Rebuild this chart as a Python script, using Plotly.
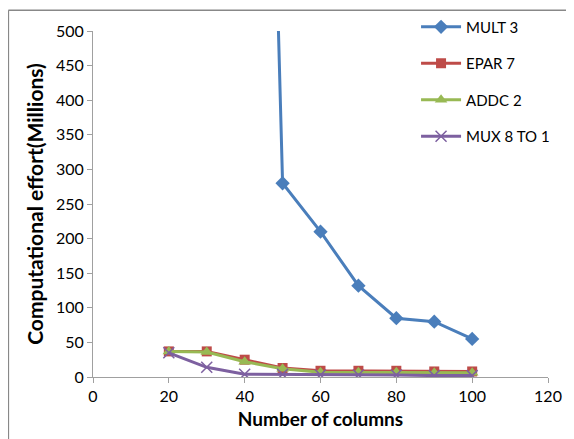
import plotly.graph_objects as go

x_cols = [20, 30, 40, 50, 60, 70, 80, 90, 100]
mult3_x = [40, 50, 60, 70, 80, 90, 100]
mult3 = [2300, 280, 210, 132, 85, 80, 55]
epar7 = [37, 37, 25, 13, 9, 9, 9, 8, 8]
addc2 = [37, 36, 22, 12, 7, 7, 7, 6, 6]
mux8 = [35, 14, 4, 4, 3, 3, 3, 2, 2]

x_ticks = [0, 20, 40, 60, 80, 100, 120]
y_ticks = [0, 50, 100, 150, 200, 250, 300, 350, 400, 450, 500]

FONT = "Lato, 'Liberation Sans', sans-serif"

fig = go.Figure()
fig.add_trace(go.Scatter(x=mult3_x, y=mult3, name="MULT 3", mode="lines+markers", legendgroup="a",
                         line=dict(color="#4A7EBB", width=3),
                         marker=dict(symbol="diamond", size=11, color="#4A7EBB")))
fig.add_trace(go.Scatter(x=x_cols, y=epar7, name="EPAR 7", mode="lines+markers", legendgroup="b",
                         line=dict(color="#BE4B48", width=3),
                         marker=dict(symbol="square", size=10, color="#BE4B48")))
fig.add_trace(go.Scatter(x=x_cols, y=addc2, name="ADDC 2", mode="lines+markers", legendgroup="c",
                         line=dict(color="#98B954", width=3),
                         marker=dict(symbol="triangle-up", size=11, color="#98B954")))
fig.add_trace(go.Scatter(x=x_cols, y=mux8, name="MUX 8 TO 1", mode="lines+markers", legendgroup="d",
                         line=dict(color="#7D60A0", width=3),
                         marker=dict(symbol="x-thin", size=11, color="#7D60A0",
                                     line=dict(color="#7D60A0", width=1.5))))

fig.update_layout(
    width=574, height=439,
    margin=dict(l=85, r=34, t=23, b=70, autoexpand=False),
    paper_bgcolor="white", plot_bgcolor="white",
    font=dict(family=FONT, size=14, color="#000000"),
    showlegend=True,
    legend=dict(x=0.71, y=1.059, xanchor="left", yanchor="top",
                bgcolor="rgba(0,0,0,0)", font=dict(size=15),
                tracegroupgap=14, itemwidth=40),
    xaxis=dict(range=[0, 120], tickvals=x_ticks, showgrid=False, zeroline=False,
               showline=True, linecolor="#A0A0A0", linewidth=1, automargin=False,
               ticks="outside", ticklen=5, tickcolor="#A0A0A0",
               tickfont=dict(size=16),
               title=dict(text="<b>Number of columns</b>", font=dict(size=19), standoff=8)),
    yaxis=dict(range=[0, 500], tickvals=y_ticks, showgrid=False, zeroline=False,
               showline=True, linecolor="#A0A0A0", linewidth=1, automargin=False,
               ticks="outside", ticklen=5, tickcolor="#A0A0A0",
               tickfont=dict(size=16),
               title=dict(text="<b>Computational effort(Millions)</b>", font=dict(size=21), standoff=6)),
    shapes=[
        dict(type="line", xref="paper", yref="paper", x0=-0.186, x1=1.08, y0=1.06, y1=1.06,
             line=dict(color="#888888", width=1.5)),
        dict(type="line", xref="paper", yref="paper", x0=-0.186, x1=-0.186, y0=1.06, y1=-0.2,
             line=dict(color="#888888", width=1.5)),
    ],
)

fig.write_html("out.html")
